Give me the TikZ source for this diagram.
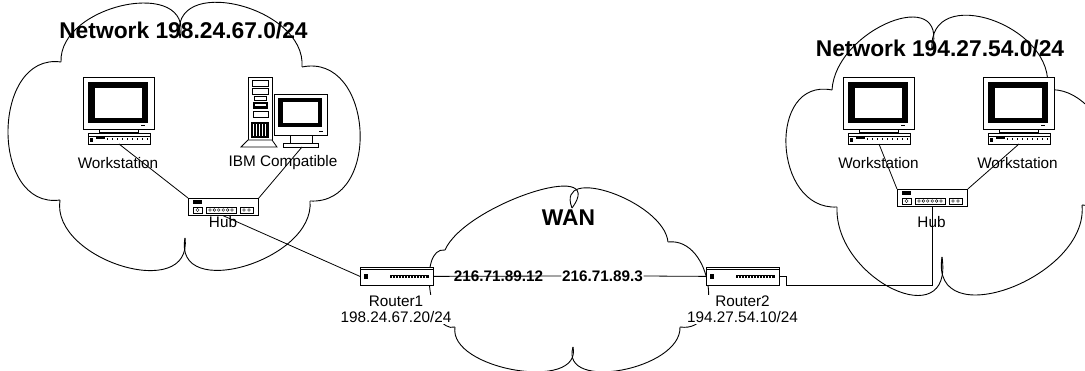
\documentclass[tikz,border=0pt]{standalone}
\usepackage{fontspec}
\setmainfont{Liberation Sans}
\newcommand\cloudlobe[6]{\draw[cl] (#1,#2) .. controls ({0.4033*#1+4*#3/3-0.7367*#5},{0.4033*#2+4*#4/3-0.7367*#6}) and ({0.4033*#5+4*#3/3-0.7367*#1},{0.4033*#6+4*#4/3-0.7367*#2}) .. (#5,#6);}
\tikzset{
  cl/.style={line width=0.9pt},
  wire/.style={line width=0.8pt},
  dev/.style={draw, fill=white, line width=0.8pt, inner sep=0pt, anchor=north west},
  lbl/.style={font=\fontsize{15.3}{16}\selectfont, inner sep=0pt},
  ttl/.style={font=\bfseries\fontsize{22.8}{26}\selectfont, inner sep=0pt},
  iplbl/.style={font=\bfseries\fontsize{15.3}{17}\selectfont, inner sep=0.5pt},
  workstation/.pic={
    \draw[line width=0.8pt, fill=white] (0,0) rectangle (71,52);
    \fill (5,5) rectangle (65,46);
    \fill[white] (12,11) rectangle (59,41);
    \fill (58,48) rectangle (62,49.3);
    \draw[line width=0.7pt, fill=white] (16,52) rectangle (55,55.5);
    \draw[line width=0.8pt, fill=white] (5,56) rectangle (67,67);
    \draw[line width=0.5pt] (5,59) -- (67,59);
    \fill (7,61) rectangle (10,65);
    \fill (13,60) rectangle (22,62.5);
    \foreach \k in {24,29,...,64} \fill (\k,61) rectangle ++(1.3,2.5);
    \coordinate (-kb) at (36,67);
  },
  ibmpc/.pic={
    \draw[line width=0.8pt, fill=white] (0,0) rectangle (24,63);
    \draw[line width=0.5pt] (4,3) rectangle (20,9);
    \draw[line width=0.5pt] (4,11) rectangle (20,17);
    \draw[line width=0.5pt] (6,19) rectangle (18,23);
    \fill (5,25) rectangle (20,32);
    \fill[white] (7,27) rectangle (18,29);
    \draw[line width=0.5pt] (5,34) rectangle (20,40);
    \fill (3,45) rectangle (21,61);
    \foreach \k in {5,8,...,18} \fill[white] (\k,47) rectangle ++(1.1,12);
    \draw[line width=0.8pt, fill=white] (0,63) -- (24,63) -- (29,70) -- (-7,70) -- cycle;
    \draw[line width=0.8pt, fill=white] (26,17) rectangle (79,58);
    \fill (30,21) rectangle (74,50);
    \fill[white] (35,25) rectangle (70,46);
    \fill (71,54) rectangle (75,55.3);
    \draw[line width=0.7pt, fill=white] (42,58) rectangle (64,66);
    \draw[line width=0.8pt, fill=white] (35,66) rectangle (70,70);
    \coordinate (-foot) at (54,70);
  },
  hub/.pic={
    \node[dev, minimum width=70pt, minimum height=17pt] (-box) at (0,0) {};
    \fill (5,2) rectangle (14,6.5);
    \draw[line width=0.5pt] (5,9) rectangle (14,15);
    \draw[line width=0.4pt] (9.5,12) circle (1.6);
    \draw[line width=0.5pt] (18,9) rectangle (48,15);
    \foreach \k in {0,...,5} \draw[line width=0.4pt] (22+\k*4.4,12) circle (1.4);
    \draw[line width=0.5pt] (52,9) rectangle (65,15);
    \draw[line width=0.4pt] (56,12) circle (1.4);
    \draw[line width=0.4pt] (61,12) circle (1.4);
  },
  router/.pic={
    \node[dev, minimum width=73pt, minimum height=18pt] (-box) at (0,0) {};
    \draw[line width=0.5pt] (0,2.5) -- (73,2.5);
    \fill (4,7.5) rectangle (8,12);
    \fill (30,8) rectangle (69,11.5);
    \foreach \k in {32,35,...,67} \fill[white] (\k,9) rectangle ++(0.9,1.6);
  },
}
\begin{document}
\begin{tikzpicture}[x=1pt,y=-1pt]
\useasboundingbox (0,0) rectangle (1085,371);
\clip (0,0) rectangle (1085,371);
% left network cloud
\cloudlobe{61}{62}{125}{5}{180}{38}
\cloudlobe{180}{38}{238}{5}{302}{67}
\cloudlobe{302}{67}{360}{130}{310}{201}
\cloudlobe{310}{201}{245}{266}{185}{238}
\cloudlobe{185}{238}{122}{266}{60}{200}
\cloudlobe{60}{200}{8}{131}{61}{62}
% right network cloud
\cloudlobe{832}{90}{890}{22}{932}{50}
\cloudlobe{932}{50}{992}{20}{1047}{90}
\cloudlobe{1047}{90}{1112}{148}{1082}{205}
\cloudlobe{1082}{205}{1010}{288}{942}{257}
\cloudlobe{942}{257}{893}{289}{837}{207}
\cloudlobe{837}{207}{786}{145}{832}{90}
% WAN cloud
\cloudlobe{445}{250}{530}{193}{572}{208}
\cloudlobe{572}{208}{612}{193}{668}{242}
\cloudlobe{668}{242}{708}{285}{680}{327}
\cloudlobe{680}{327}{622}{370}{573}{347}
\cloudlobe{573}{347}{515}{370}{455}{327}
\cloudlobe{455}{327}{430}{290}{445}{250}

% titles
\node[ttl] (t1) at (183.5,30) {Network 198.24.67.0/24};
\node[ttl] (t2) at (940,48) {Network 194.27.54.0/24};
\node[ttl] (wan) at (568.5,218) {WAN};

% devices
\pic (ws1) at (83,77) {workstation};
\pic (ibm) at (248,77) {ibmpc};
\pic (hub1) at (188,198) {hub};
\pic (ws2) at (843,77) {workstation};
\pic (ws3) at (983,77) {workstation};
\pic (hub2) at (897,189) {hub};
\pic (r1) at (360,267) {router};
\pic (r2) at (706,267) {router};

% labels
\node[lbl] (l1) at (118,163) {Workstation};
\node[lbl] (l2) at (283,163) {IBM Compatible};
\node[lbl] (l3) at (223,222) {Hub};
\node[lbl] (l4) at (878.5,163) {Workstation};
\node[lbl] (l5) at (1017.5,163) {Workstation};
\node[lbl] (l6) at (931.5,222) {Hub};
\node[lbl, fill=white, align=center, inner sep=1pt] (r1l) at (396,309.5) {Router1\\198.24.67.20/24};
\node[lbl, fill=white, align=center, inner sep=1pt] (r2l) at (742.5,309.5) {Router2\\194.27.54.10/24};
\node[iplbl] (ip1) at (498.5,276) {216.71.89.12};
\node[iplbl] (ip2) at (602.5,276) {216.71.89.3};

% connectors
\draw[wire] (ws1-kb) -- (hub1-box.north west);
\draw[wire] (ibm-foot) -- (hub1-box.north east);
\draw[wire] (hub1-box.south) -- (r1-box.west);
\draw[wire] (r1-box.east) -- (ip2.west);
\draw[wire] (ip2.east) -- (r2-box.west);
\draw[wire] (ws2-kb) -- (hub2-box.north west);
\draw[wire] (ws3-kb) -- (hub2-box.north east);
\coordinate (bend) at (786,285);
\draw[wire] (r2-box.east) -| (bend) -| (hub2-box.south);
\end{tikzpicture}
\end{document}
